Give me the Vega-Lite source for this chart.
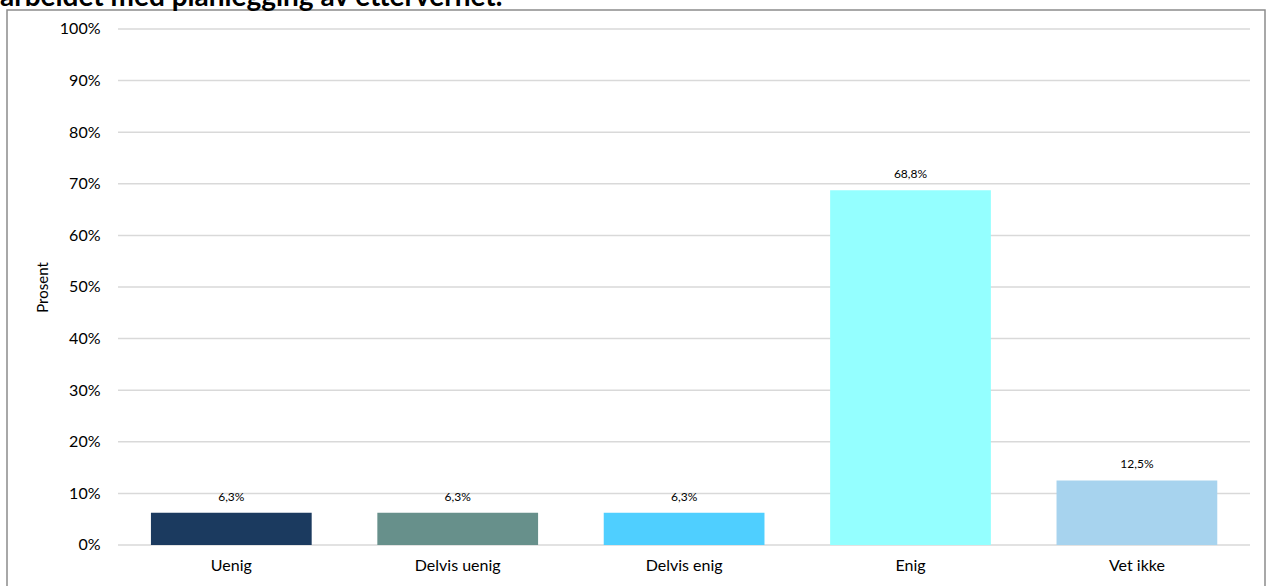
{
  "$schema": "https://vega.github.io/schema/vega-lite/v6.json",
  "autosize": "none",
  "width": 1258,
  "height": 590,
  "padding": {"left": 7, "top": 10, "right": 6, "bottom": 0},
  "background": "white",
  "config": {
    "font": "Lato",
    "view": {"stroke": "#8c8c8c", "strokeWidth": 1.5},
    "locale": {"number": {"decimal": ",", "thousands": " ", "grouping": [3], "currency": ["", " kr"]}}
  },
  "title": {
    "text": "arbeidet med planlegging av ettervernet.",
    "anchor": "start",
    "frame": "group",
    "orient": "top",
    "baseline": "alphabetic",
    "offset": 5,
    "dx": -7,
    "dy": 29,
    "font": "Lato",
    "fontSize": 28,
    "fontWeight": "bold",
    "color": "#000000"
  },
  "datasets": {
    "svar": [
      {"svar": "Uenig", "andel": 0.0625},
      {"svar": "Delvis uenig", "andel": 0.0625},
      {"svar": "Delvis enig", "andel": 0.0625},
      {"svar": "Enig", "andel": 0.6875},
      {"svar": "Vet ikke", "andel": 0.125}
    ],
    "ticks": [
      {"v": 0}, {"v": 0.1}, {"v": 0.2}, {"v": 0.3}, {"v": 0.4}, {"v": 0.5},
      {"v": 0.6}, {"v": 0.7}, {"v": 0.8}, {"v": 0.9}, {"v": 1.0}
    ]
  },
  "layer": [
    {
      "data": {"name": "ticks"},
      "mark": {"type": "rule", "color": "#d9d9d9", "strokeWidth": 1.5},
      "encoding": {
        "y": {
          "field": "v", "type": "quantitative",
          "scale": {"domain": [-0.10659, 1.03682], "nice": false, "zero": false},
          "axis": {
            "orient": "left", "offset": -111, "values": [0, 0.1, 0.2, 0.3, 0.4, 0.5, 0.6, 0.7, 0.8, 0.9, 1.0],
            "format": ".0%", "domain": false, "ticks": false, "grid": false,
            "labelPadding": 18, "labelFontSize": 16, "labelColor": "#000000", "labelFont": "Lato",
            "title": "Prosent", "titleFontSize": 15, "titleFontWeight": "normal", "titleColor": "#000000",
            "titleFont": "Lato", "titleX": -76, "titleY": 277, "titleAngle": -90, "titleAlign": "center", "titleBaseline": "middle"
          }
        },
        "x": {"datum": 0, "type": "quantitative", "scale": {"domain": [-0.098057, 1.013251], "nice": false, "zero": false}, "axis": null},
        "x2": {"datum": 1}
      }
    },
    {
      "data": {"name": "svar"},
      "encoding": {
        "x": {
          "field": "svar", "type": "nominal",
          "sort": ["Uenig", "Delvis uenig", "Delvis enig", "Enig", "Vet ikke"],
          "scale": {"paddingInner": 0.29, "paddingOuter": 0.4233, "align": 0.751},
          "axis": {
            "orient": "bottom", "offset": -55, "title": null, "labelAngle": 0, "domain": false, "ticks": false,
            "labelPadding": 12, "labelFontSize": 16, "labelColor": "#000000", "labelFont": "Lato"
          }
        },
        "y": {"field": "andel", "type": "quantitative"}
      },
      "layer": [
        {
          "mark": {"type": "bar"},
          "encoding": {
            "y2": {"datum": 0},
            "color": {
              "field": "svar", "type": "nominal",
              "scale": {"domain": ["Uenig", "Delvis uenig", "Delvis enig", "Enig", "Vet ikke"],
                        "range": ["#1b3a5f", "#67908b", "#4fcfff", "#94ffff", "#a7d3ee"]},
              "legend": null
            }
          }
        },
        {
          "mark": {"type": "text", "baseline": "bottom", "dy": -9, "fontSize": 12, "color": "#000000", "font": "Lato"},
          "encoding": {
            "text": {"field": "andel", "type": "quantitative", "format": ".1%"}
          }
        }
      ]
    }
  ],
  "resolve": {"scale": {"x": "independent"}, "axis": {"x": "independent"}}
}
